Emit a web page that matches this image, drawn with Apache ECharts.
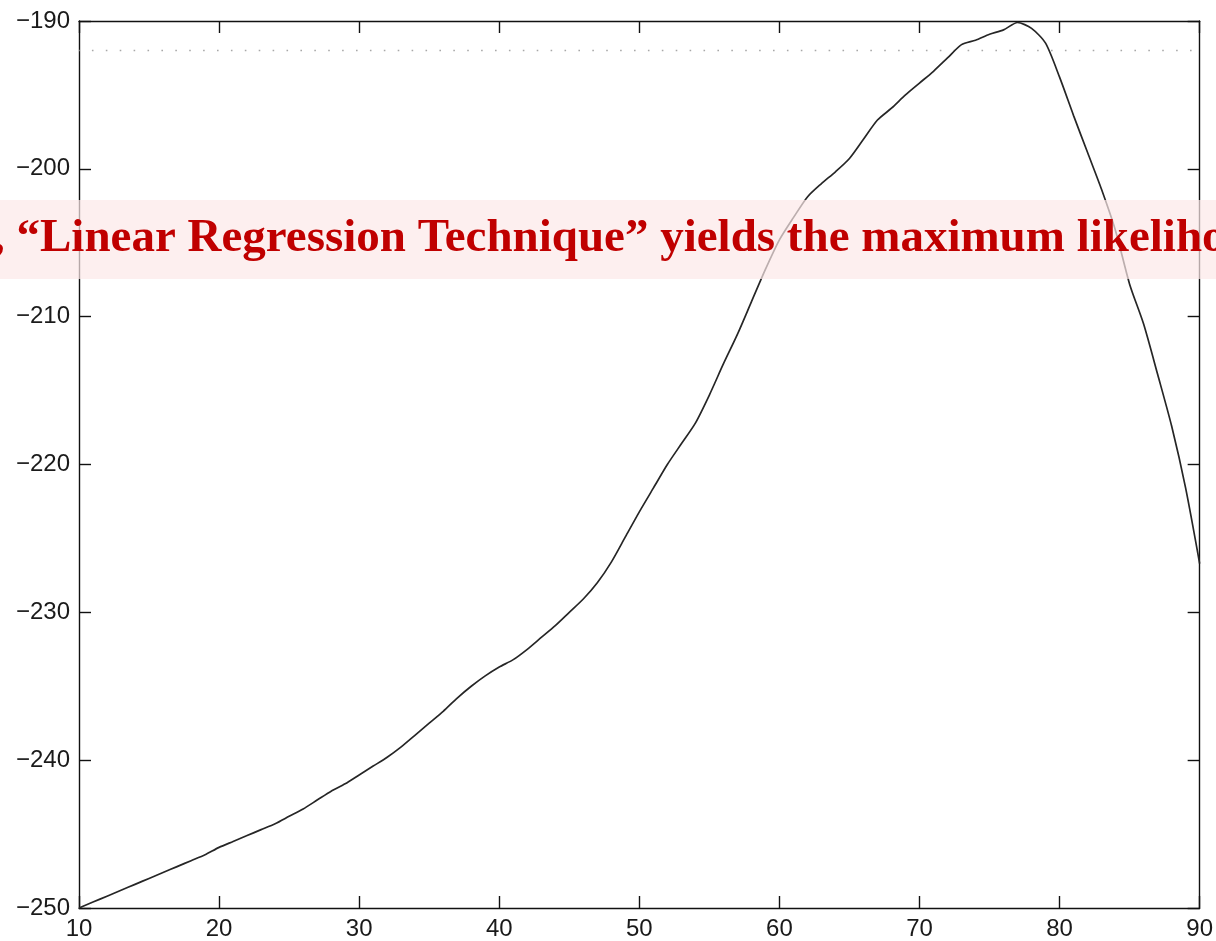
<!DOCTYPE html>
<html>
<head>
<meta charset="utf-8">
<script src="https://cdn.jsdelivr.net/npm/echarts@6/dist/echarts.min.js"></script>
<style>
  html, body { margin: 0; padding: 0; background: #ffffff; }
  #chart { width: 1216px; height: 941px; }
</style>
</head>
<body>
<div id="chart"></div>
<script>
// Log-likelihood profile against the parameter value
const paramValues = [
  10, 11, 12, 13, 14, 15, 16, 17, 18, 19,
  20, 21, 22, 23, 24, 25, 26, 27, 28, 29,
  30, 31, 32, 33, 34, 35, 36, 37, 38, 39,
  40, 41, 42, 43, 44, 45, 46, 47, 48, 49,
  50, 51, 52, 53, 54, 55, 56, 57, 58, 59,
  60, 61, 62, 63, 64, 65, 66, 67, 68, 69,
  70, 71, 72, 73, 74, 75, 76, 77, 78, 79,
  80, 81, 82, 83, 84, 85, 86, 87, 88, 89, 90
];
const logLikelihood = [
  -250.0, -249.6, -249.2, -248.8, -248.4, -248.0, -247.6, -247.2, -246.8, -246.4,
  -245.9, -245.5, -245.1, -244.7, -244.3, -243.8, -243.3, -242.7, -242.1, -241.6,
  -241.0, -240.4, -239.8, -239.1, -238.3, -237.5, -236.7, -235.8, -235.0, -234.3,
  -233.7, -233.2, -232.5, -231.7, -230.9, -230.0, -229.1, -228.0, -226.6, -224.9,
  -223.2, -221.6, -220.0, -218.6, -217.2, -215.3, -213.2, -211.2, -209.0, -206.8,
  -204.8, -203.3, -201.9, -201.0, -200.2, -199.3, -198.0, -196.7, -195.9, -195.0,
  -194.2, -193.4, -192.5, -191.6, -191.3, -190.9, -190.6, -190.1, -190.5, -191.5,
  -193.8, -196.4, -198.9, -201.4, -204.2, -207.8, -210.5, -213.9, -217.4, -221.6, -226.7
];
// Cut-off level drawn as a dotted reference line
const cutoffLevel = -192;
const xTicks = [10, 20, 30, 40, 50, 60, 70, 80, 90];
const yTicks = [-250, -240, -230, -220, -210, -200, -190];
const bannerText = ', \u201CLinear Regression Technique\u201D yields the maximum likelihood estimate';

const chart = echarts.init(document.getElementById('chart'), null, { renderer: 'canvas' });

const labelFont = { fontFamily: 'Liberation Sans, Arial, sans-serif', fontSize: 24, color: '#1a1a1a' };
const minusFmt = v => String(v).replace('-', '\u2212');
const axisLine = { show: true, lineStyle: { color: '#111', width: 1.4 } };
const axisTick = { show: true, inside: true, length: 12, lineStyle: { color: '#111', width: 1.4 } };

const xMin = xTicks[0], xMax = xTicks[xTicks.length - 1];
const yMin = yTicks[0], yMax = yTicks[yTicks.length - 1];

chart.setOption({
  animation: false,
  backgroundColor: '#ffffff',
  grid: { left: 79, right: 11, top: 21, bottom: 33, containLabel: false },
  xAxis: [
    {
      type: 'value', position: 'bottom', min: xMin, max: xMax, interval: 10,
      axisLine, axisTick, splitLine: { show: false },
      axisLabel: Object.assign({ margin: 9, showMinLabel: true, showMaxLabel: true, formatter: minusFmt }, labelFont)
    },
    {
      type: 'value', position: 'top', min: xMin, max: xMax, interval: 10,
      axisLine, axisTick, splitLine: { show: false }, axisLabel: { show: false }
    }
  ],
  yAxis: [
    {
      type: 'value', position: 'left', min: yMin, max: yMax, interval: 10,
      axisLine, axisTick, splitLine: { show: false },
      axisLabel: Object.assign({ margin: 9, showMinLabel: true, showMaxLabel: true, formatter: minusFmt }, labelFont)
    },
    {
      type: 'value', position: 'right', min: yMin, max: yMax, interval: 10,
      axisLine, axisTick, splitLine: { show: false }, axisLabel: { show: false }
    }
  ],
  series: [
    {
      name: 'cutoff',
      type: 'line',
      data: [[xMin, cutoffLevel], [xMax, cutoffLevel]],
      symbol: 'none',
      silent: true,
      lineStyle: { color: '#a8a8a8', width: 1.6, type: [1.6, 12.3], dashOffset: 1 },
      z: 2
    },
    {
      name: 'log-likelihood',
      type: 'line',
      data: paramValues.map((x, i) => [x, logLikelihood[i]]),
      symbol: 'none',
      smooth: 0.25,
      lineStyle: { color: '#262626', width: 1.7 },
      z: 3
    }
  ],
  graphic: [
    {
      type: 'rect',
      shape: { x: 0, y: 200, width: 1216, height: 79 },
      style: { fill: 'rgba(252, 232, 232, 0.7)' },
      z: 100
    },
    {
      type: 'text',
      x: -7,
      y: 239,
      style: {
        text: bannerText,
        fill: '#c00000',
        font: 'bold 47px "Liberation Serif", "Times New Roman", serif',
        textAlign: 'left',
        textVerticalAlign: 'middle'
      },
      z: 101
    }
  ]
});
</script>
</body>
</html>
